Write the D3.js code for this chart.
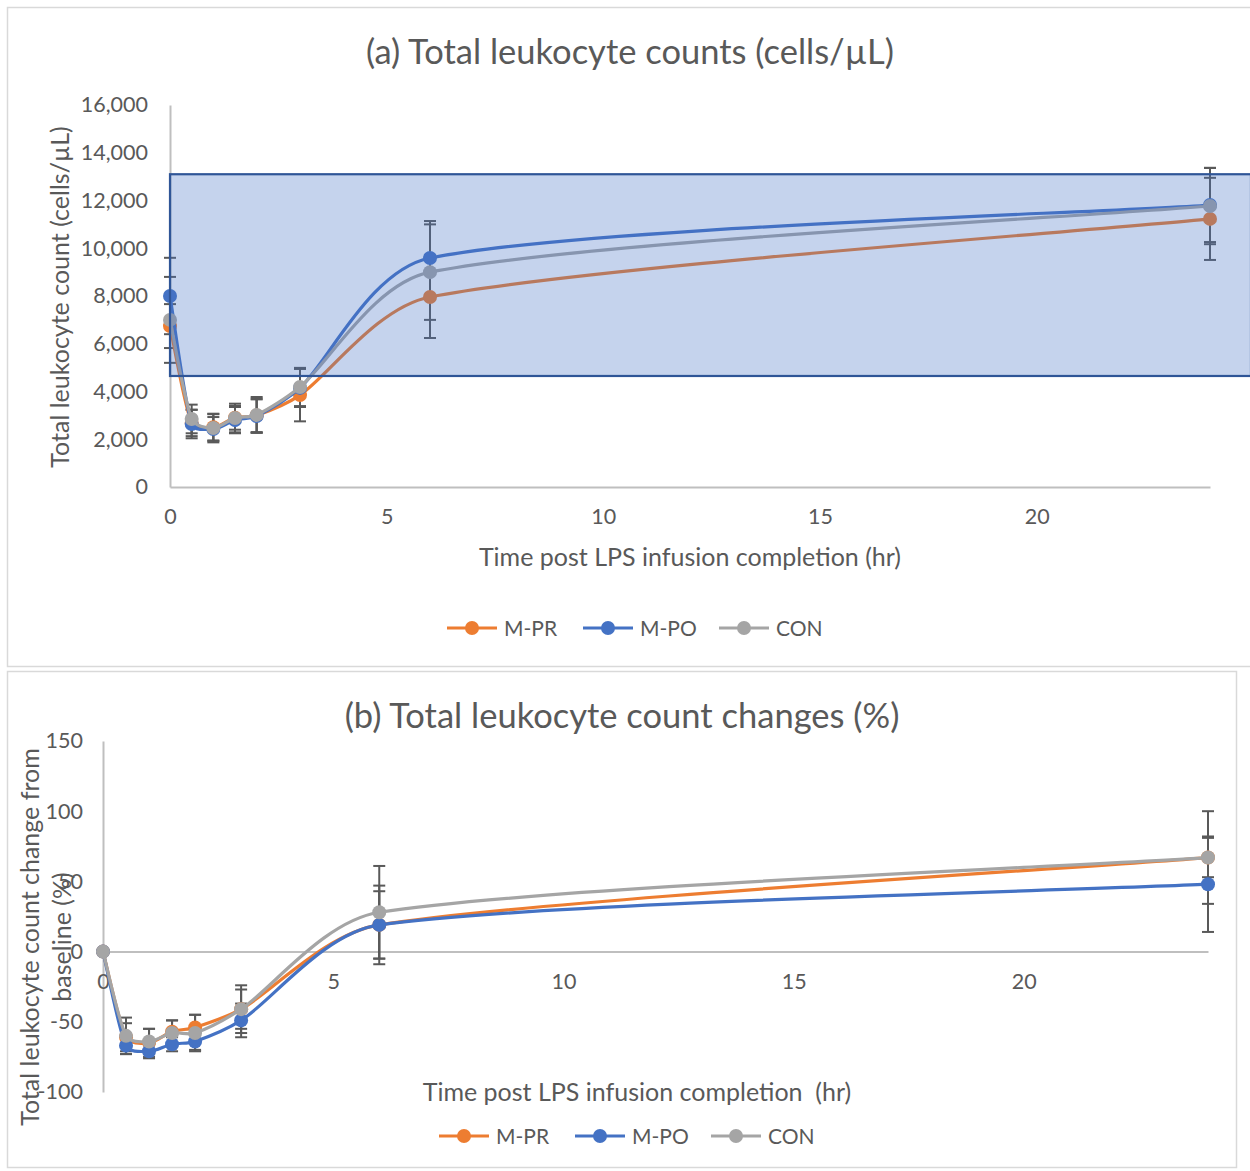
<!DOCTYPE html>
<html>
<head>
<meta charset="utf-8">
<script src="https://cdn.jsdelivr.net/npm/d3@7"></script>
<style>
  body { margin: 0; background: #fff; }
  text { font-family: Lato, "Open Sans", sans-serif; fill: #595959; }
</style>
</head>
<body>
<script>
// sampling times (hr after LPS infusion)
var times = [0, 0.5, 1, 1.5, 2, 3, 6, 24];

// (a) leukocyte counts, cells/uL
var countMPR = [6740, 2680, 2500, 2900, 3000, 3850, 7960, 11230];
var countMPO = [8000, 2640, 2430, 2800, 2970, 4150, 9590, 11810];
var countCON = [7000, 2850, 2470, 2890, 3020, 4190, 9000, 11770];
var sdCountMPR = [920, 550, 550, 500, 700, 1100, 1720, 1720];
var sdCountMPO = [1600, 600, 500, 550, 700, 800, 1550, 1550];
var sdCountCON = [1800, 600, 600, 600, 750, 800, 2000, 1600];
var normalRange = [4650, 13100];

// (b) change from baseline, %
var pctMPR = [0, -61, -65, -57, -54, -41, 19, 67];
var pctMPO = [0, -67, -71, -66, -64, -49, 19, 48];
var pctCON = [0, -60, -64, -58, -58, -41, 28, 67];
var sdPctMPR = [0, 10, 10, 8, 9, 14, 28, 14];
var sdPctMPO = [0, 6, 5, 5, 6, 12, 24, 34];
var sdPctCON = [0, 13, 9, 9, 13, 17, 33, 33];

var seriesNames = ["M-PR", "M-PO", "CON"];
var seriesColors = ["#ed7d31", "#4472c4", "#a5a5a5"];
var xTicks = [0, 5, 10, 15, 20];

var svg = d3.select("body").append("svg")
    .attr("width", 1250)
    .attr("height", 1171);

// chart frames
svg.append("rect").attr("x", 7.5).attr("y", 7.5).attr("width", 1250).attr("height", 659)
    .attr("fill", "none").attr("stroke", "#d9d9d9").attr("stroke-width", 1.5);
svg.append("rect").attr("x", 7.5).attr("y", 671.5).attr("width", 1229).attr("height", 496)
    .attr("fill", "none").attr("stroke", "#d9d9d9").attr("stroke-width", 1.5);

// smoothed path like Excel: cardinal tangents, control arms capped at 1/3 of segment
function smoothPath(pts) {
  var n = pts.length, p = d3.path();
  var tan = pts.map(function(q, i) {
    var a = pts[Math.max(0, i - 1)], b = pts[Math.min(n - 1, i + 1)];
    return [(b[0] - a[0]) / 6, (b[1] - a[1]) / 6];
  });
  function arm(t, maxLen) {
    var len = Math.hypot(t[0], t[1]);
    var k = len > maxLen ? maxLen / len : 1;
    return [t[0] * k, t[1] * k];
  }
  p.moveTo(pts[0][0], pts[0][1]);
  for (var i = 0; i < n - 1; i++) {
    var a = pts[i], b = pts[i + 1];
    var L = Math.hypot(b[0] - a[0], b[1] - a[1]) / 3;
    var t1 = arm(tan[i], L), t2 = arm(tan[i + 1], L);
    p.bezierCurveTo(a[0] + t1[0], a[1] + t1[1], b[0] - t2[0], b[1] - t2[1], b[0], b[1]);
  }
  return p.toString();
}

function drawPanel(cfg) {
  var g = svg.append("g");
  var x = d3.scaleLinear().domain([0, 24]).range(cfg.xRange);
  var y = d3.scaleLinear().domain(cfg.yDomain).range(cfg.yRange);

  // y axis labels + line
  var ya = g.append("g")
      .attr("transform", "translate(" + cfg.xRange[0] + ",0)")
      .call(d3.axisLeft(y).tickValues(cfg.yTicks).tickSize(0).tickPadding(cfg.yPad)
        .tickFormat(cfg.yFormat));
  ya.select(".domain").attr("stroke", "#bfbfbf").attr("stroke-width", 2);
  ya.selectAll("text").attr("font-size", 21.5).style("fill", "#595959")
      .style("font-family", "Lato, sans-serif");

  // x axis line at zero value
  var x0 = y(0);
  var xa = g.append("g")
      .attr("transform", "translate(0," + x0 + ")")
      .call(d3.axisBottom(x).tickValues(xTicks).tickSize(0).tickPadding(cfg.xPad));
  xa.select(".domain").attr("stroke", "#bfbfbf").attr("stroke-width", 2);
  xa.selectAll("text").attr("font-size", 21.5).style("fill", "#595959")
      .style("font-family", "Lato, sans-serif");

  cfg.values.forEach(function(vals, i) {
    var pts = times.map(function(t, j) { return [t, vals[j], cfg.errs[i][j]]; });
    // error bars
    var eb = g.append("g").attr("stroke", "#595959").attr("stroke-width", 2);
    pts.forEach(function(p) {
      if (!p[2]) return;
      var cx = x(p[0]), yt = y(p[1] + p[2]), yb = y(p[1] - p[2]);
      eb.append("line").attr("x1", cx).attr("x2", cx).attr("y1", yt).attr("y2", yb);
      eb.append("line").attr("x1", cx - 6).attr("x2", cx + 6).attr("y1", yt).attr("y2", yt);
      eb.append("line").attr("x1", cx - 6).attr("x2", cx + 6).attr("y1", yb).attr("y2", yb);
    });
  });

  cfg.values.forEach(function(vals, i) {
    var pts = times.map(function(t, j) { return [t, vals[j]]; });
    g.append("path")
        .attr("d", smoothPath(pts.map(function(d) { return [x(d[0]), y(d[1])]; })))
        .attr("fill", "none")
        .attr("stroke", seriesColors[i])
        .attr("stroke-width", 3.2);
    g.selectAll(null)
        .data(pts)
      .enter().append("circle")
        .attr("cx", function(d) { return x(d[0]); })
        .attr("cy", function(d) { return y(d[1]); })
        .attr("r", 7)
        .attr("fill", seriesColors[i]);
  });

  if (cfg.band) {
    g.append("rect")
        .attr("x", x(0))
        .attr("y", y(cfg.band[1]))
        .attr("width", 1251 - x(0))
        .attr("height", y(cfg.band[0]) - y(cfg.band[1]))
        .attr("fill", "#4472c4")
        .attr("fill-opacity", 0.31)
        .attr("stroke", "#2f5597")
        .attr("stroke-width", 2.2);
  }

  // title
  g.append("text")
      .attr("x", cfg.titleX).attr("y", cfg.titleY)
      .attr("text-anchor", "middle")
      .attr("font-size", 34.5)
      .text(cfg.title);

  // x axis title
  g.append("text")
      .attr("x", cfg.xTitleX).attr("y", cfg.xTitleY)
      .attr("text-anchor", "middle")
      .attr("font-size", 25)
      .style("white-space", "pre")
      .text(cfg.xTitle);

  // y axis title (may be multi-line)
  cfg.yTitle.forEach(function(t, k) {
    g.append("text")
        .attr("transform", "translate(" + cfg.yTitleX[k] + "," + cfg.yTitleY + ") rotate(-90)")
        .attr("text-anchor", "middle")
        .attr("font-size", 25)
        .text(t);
  });

  // legend
  var lg = g.append("g").attr("transform", "translate(" + cfg.legendX + "," + cfg.legendY + ")");
  var offs = [0, 136, 272];
  seriesNames.forEach(function(name, i) {
    var it = lg.append("g").attr("transform", "translate(" + offs[i] + ",0)");
    it.append("line").attr("x1", 0).attr("x2", 50).attr("y1", 0).attr("y2", 0)
        .attr("stroke", seriesColors[i]).attr("stroke-width", 3.2);
    it.append("circle").attr("cx", 25).attr("cy", 0).attr("r", 7).attr("fill", seriesColors[i]);
    it.append("text").attr("x", 57).attr("y", 7.5).attr("font-size", 21).text(name);
  });
}

drawPanel({
  xRange: [170, 1210],
  yDomain: [0, 16000],
  yRange: [487, 105],
  yTicks: d3.range(0, 16001, 2000),
  yFormat: d3.format(","),
  yPad: 22,
  xPad: 22,
  values: [countMPR, countMPO, countCON],
  errs: [sdCountMPR, sdCountMPO, sdCountCON],
  band: normalRange,
  title: "(a) Total leukocyte counts (cells/\u00b5L)",
  titleX: 630, titleY: 64,
  xTitle: "Time post LPS infusion completion (hr)",
  xTitleX: 690, xTitleY: 566,
  yTitle: ["Total leukocyte count (cells/\u00b5L)"],
  yTitleX: [69], yTitleY: 297,
  legendX: 447, legendY: 628
});

drawPanel({
  xRange: [103, 1208],
  yDomain: [-100, 150],
  yRange: [1092, 741],
  yTicks: d3.range(-100, 151, 50),
  yFormat: function(d) { return String(d); },
  yPad: 20,
  xPad: 22,
  values: [pctMPR, pctMPO, pctCON],
  errs: [sdPctMPR, sdPctMPO, sdPctCON],
  band: null,
  title: "(b) Total leukocyte count changes (%)",
  titleX: 622, titleY: 728,
  xTitle: "Time post LPS infusion completion  (hr)",
  xTitleX: 637, xTitleY: 1101,
  yTitle: ["Total leukocyte count change from", "baseline (%)"],
  yTitleX: [39, 71], yTitleY: 937,
  legendX: 439, legendY: 1136
});
</script>
</body>
</html>
